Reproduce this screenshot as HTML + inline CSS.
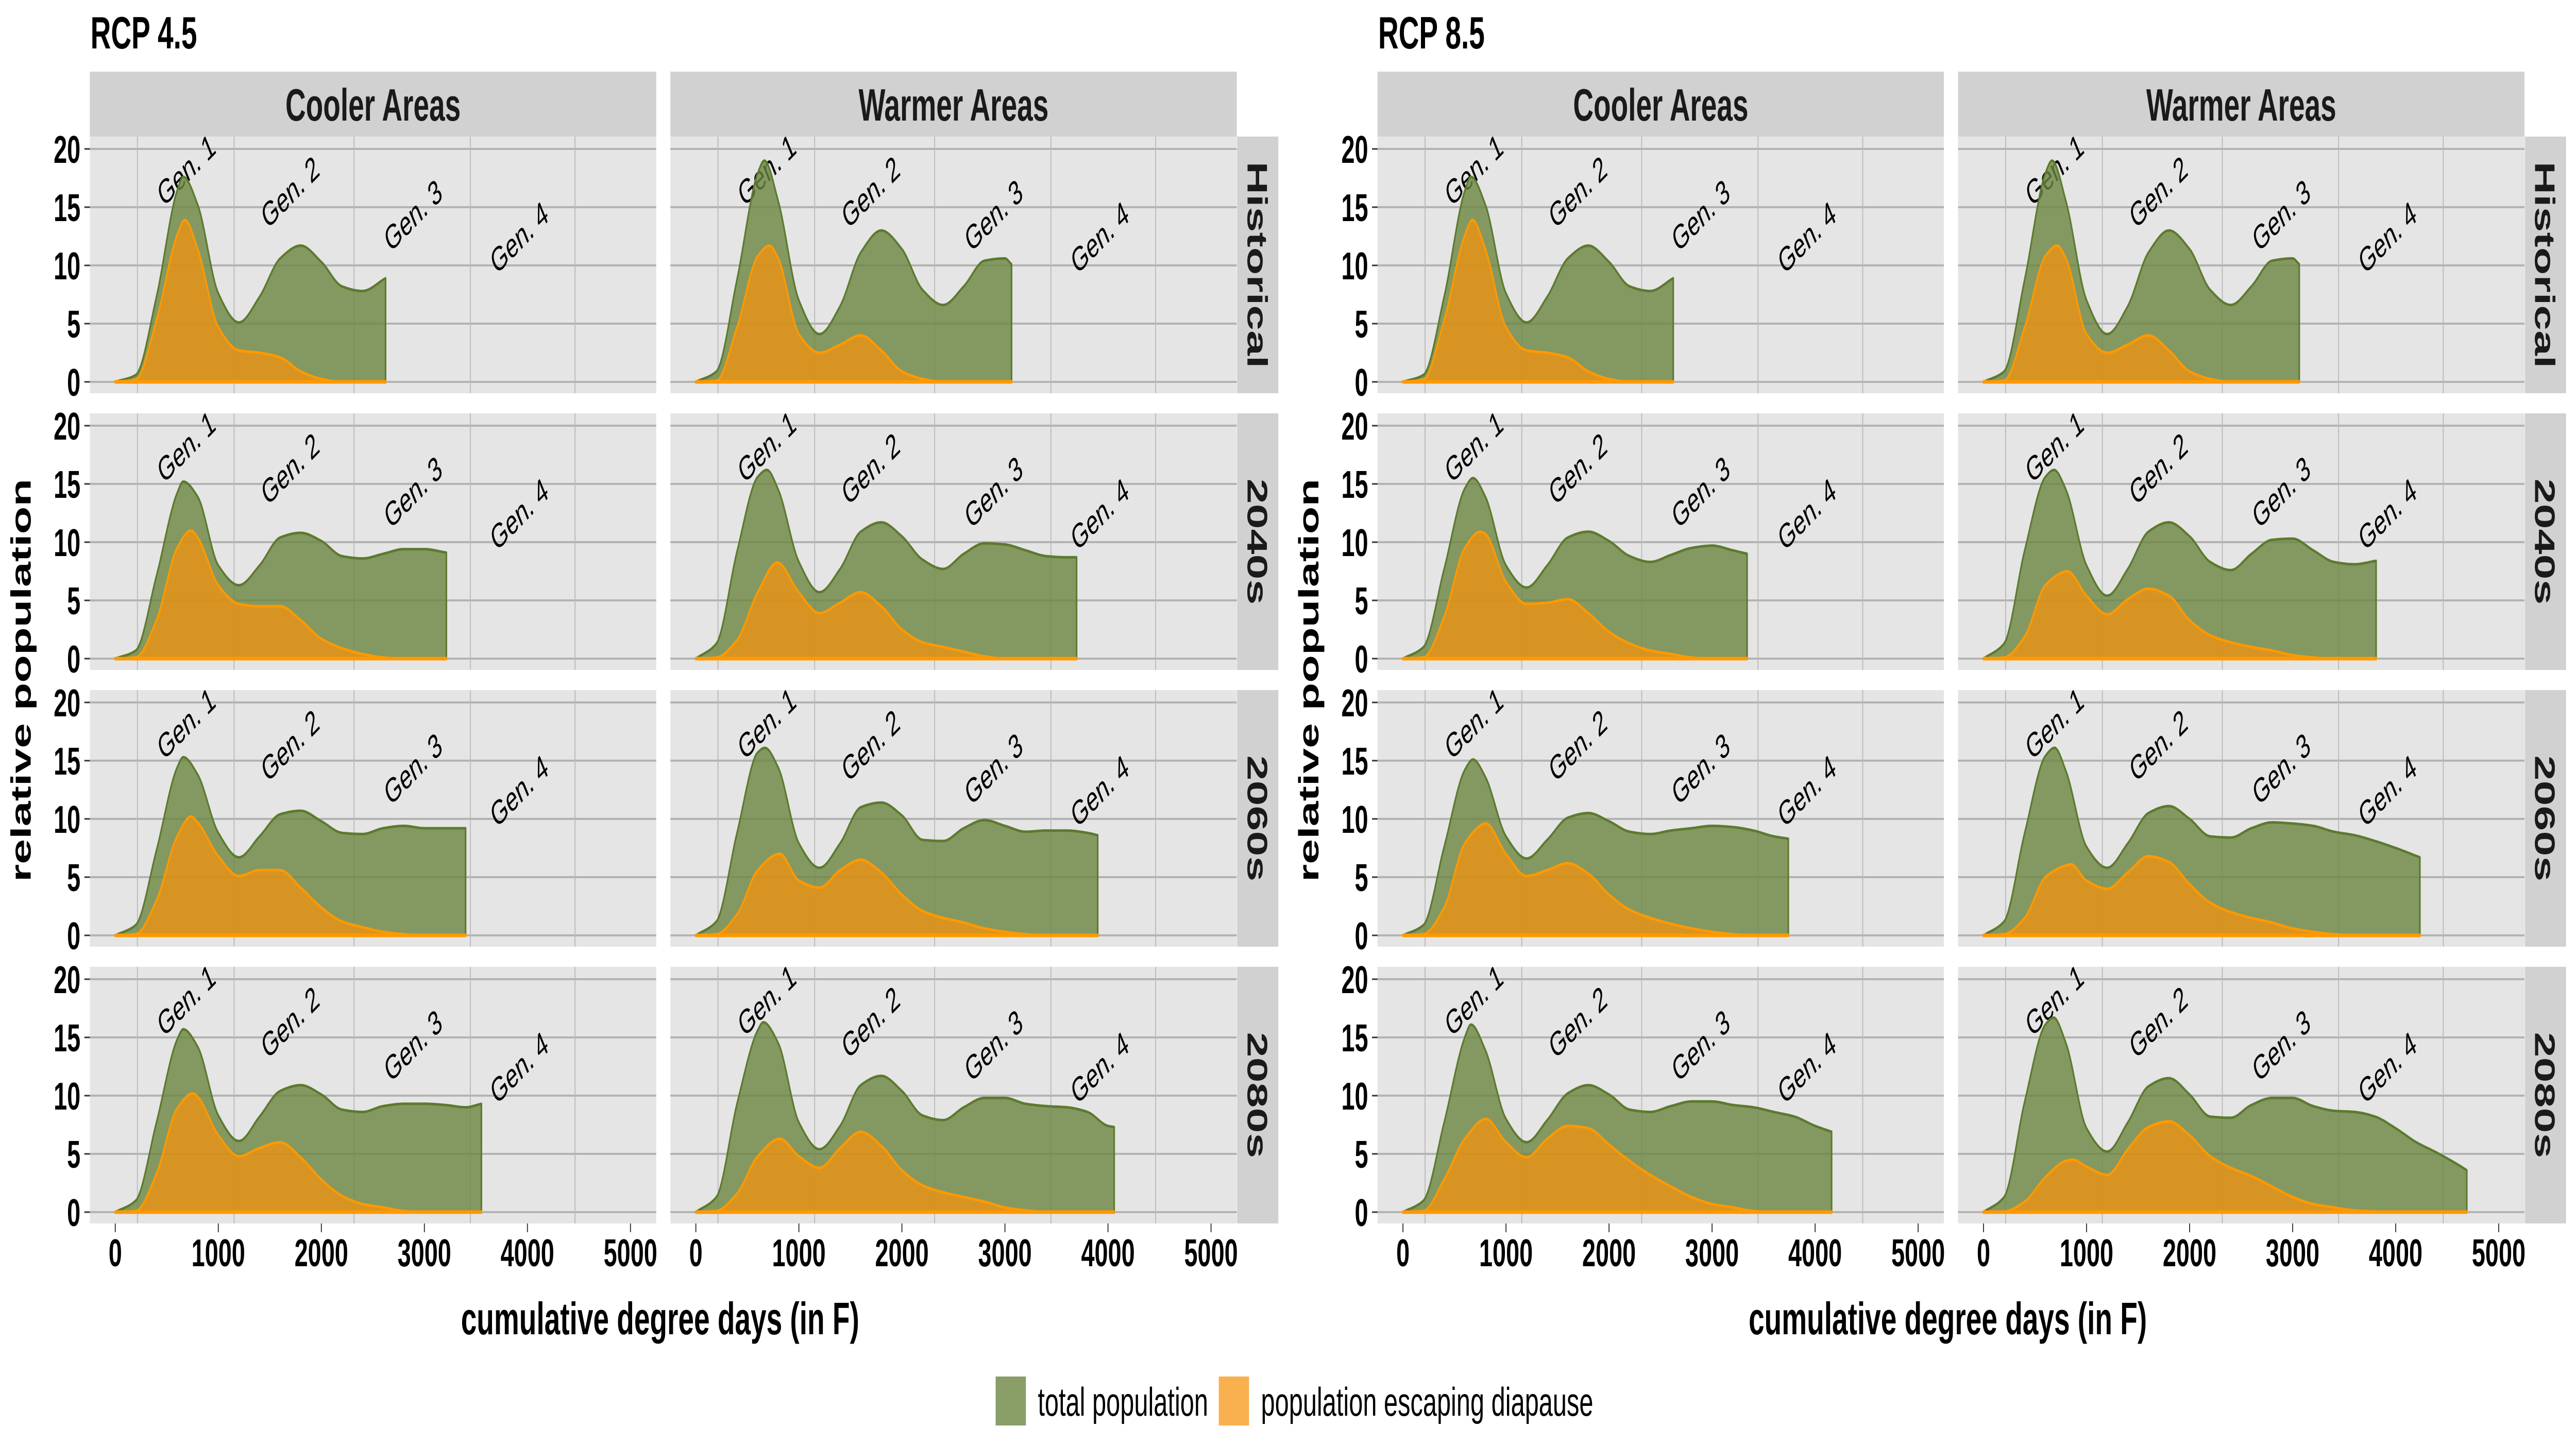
<!DOCTYPE html>
<html><head><meta charset="utf-8">
<style>
html,body{margin:0;padding:0;background:#fff;width:100%;height:100%;overflow:hidden;}
svg{display:block;font-family:"Liberation Sans",Arial,sans-serif;width:100vw;height:100vh;}
</style></head>
<body>
<svg id="chart" viewBox="0 0 8000 2800" preserveAspectRatio="none" xmlns="http://www.w3.org/2000/svg">
  <g>
    <rect x="3092" y="2671" width="94" height="95" fill="#8a9e68"/>
    <text x="3223" y="2747" font-size="78">total population</text>
    <rect x="3785" y="2671" width="94" height="95" fill="#f9b04f"/>
    <text x="3916" y="2747" font-size="78">population escaping diapause</text>
  </g>
</svg>
<script>
// ---------- data ----------
const gridStep = 200; // degree-day sampling step of the value arrays
const genLabels = ["Gen. 1","Gen. 2","Gen. 3","Gen. 4"];
const genLabelDD = [698,1706,2899,3929];
const genLabelVal = [18,16.1,14.1,12.2];
const genLines = [215,1153,2317,3446,4462];
const xTicks = [0,1000,2000,3000,4000,5000];
const yTicks = [0,5,10,15,20];
const rcpTitles = ["RCP 4.5","RCP 8.5"];
const areaNames = ["Cooler Areas","Warmer Areas"];
const periodNames = ["Historical","2040s","2060s","2080s"];

const coolHistTotal = [0,0.6,7.3,16.4,15.2,7.6,5.1,7.3,10.6,11.7,10.3,8.2,7.8,8.8];
const coolHistTotalPeak = [660,17.6];
const coolHistEsc = [0,0.2,5.3,12.6,11.4,4.7,2.7,2.5,2.1,0.9,0.25,0,0,0];
const coolHistEscPeak = [675,13.9];
const coolHistEnd = [2623,8.9];

const warmHistTotal = [0,0.9,8.8,17.9,15.5,7.0,4.1,6.5,11.1,13.0,11.4,7.9,6.6,8.2,10.4,10.6];
const warmHistTotalPeak = [665,19.0];
const warmHistEsc = [0,0.1,4.7,10.8,10.6,4.1,2.5,3.2,4.0,2.7,0.9,0.26,0,0,0,0];
const warmHistEscPeak = [715,11.7];
const warmHistEnd = [3064,10.1];

const cool45_40Total = [0,0.7,7.1,14.2,13.9,8.0,6.3,8.0,10.4,10.8,10.1,8.8,8.6,9.0,9.4,9.4,9.1];
const cool45_40TotalPeak = [660,15.2];
const cool45_40Esc = [0,0.1,3.3,9.5,10.4,6.3,4.7,4.5,4.5,3.3,1.7,0.9,0.4,0.1,0,0,0];
const cool45_40EscPeak = [735,11.0];
const cool45_40End = [3213,9.1];

const warm45_40Total = [0,1.3,9.2,15.6,14.5,8.3,5.7,7.7,10.9,11.7,10.5,8.5,7.7,9.0,9.9,9.8,9.3,8.8,8.7];
const warm45_40TotalPeak = [690,16.2];
const warm45_40Esc = [0,0.1,1.6,5.7,8.2,5.7,3.9,4.8,5.7,4.5,2.5,1.4,1.0,0.6,0.2,0,0,0,0];
const warm45_40EscPeak = [790,8.25];
const warm45_40End = [3695,8.7];

const cool45_60Total = [0,0.9,7.3,14.4,13.8,8.8,6.7,8.5,10.4,10.7,9.8,8.8,8.7,9.2,9.4,9.2,9.2,9.2];
const cool45_60TotalPeak = [660,15.3];
const cool45_60Esc = [0,0.1,3.0,8.5,9.7,6.8,5.1,5.6,5.6,4.1,2.4,1.2,0.7,0.3,0.1,0,0,0];
const cool45_60EscPeak = [735,10.2];
const cool45_60End = [3400,9.2];

const warm45_60Total = [0,1.2,8.8,15.7,14.4,7.9,5.8,7.9,11.0,11.4,10.3,8.2,8.1,9.2,9.9,9.4,8.9,9.0,9.0,8.8];
const warm45_60TotalPeak = [670,16.1];
const warm45_60Esc = [0,0.1,1.8,5.6,6.9,4.7,4.1,5.6,6.5,5.4,3.5,2.1,1.5,1.1,0.6,0.3,0.1,0,0,0];
const warm45_60EscPeak = [815,7.0];
const warm45_60End = [3900,8.6];

const cool45_80Total = [0,1.0,7.7,14.8,14.2,8.3,6.1,8.2,10.4,10.9,10.1,8.8,8.6,9.1,9.3,9.3,9.2,9.0];
const cool45_80TotalPeak = [660,15.7];
const cool45_80Esc = [0,0.1,3.3,8.9,9.9,6.6,4.8,5.5,6.0,4.7,2.8,1.4,0.7,0.4,0.1,0,0,0];
const cool45_80EscPeak = [755,10.2];
const cool45_80End = [3553,9.3];

const warm45_80Total = [0,1.3,9.3,15.6,14.5,7.7,5.4,7.4,10.9,11.7,10.4,8.3,7.9,9.0,9.8,9.8,9.3,9.1,9.0,8.6,7.4];
const warm45_80TotalPeak = [655,16.3];
const warm45_80Esc = [0,0.1,1.6,4.8,6.2,4.8,3.8,5.5,6.9,5.7,3.6,2.3,1.7,1.3,0.9,0.4,0.15,0,0,0,0];
const warm45_80EscPeak = [815,6.3];
const warm45_80End = [4060,7.3];

const cool85_40Total = [0,1.0,7.7,14.6,13.9,8.0,6.1,8.0,10.4,10.9,10.1,8.8,8.3,8.9,9.5,9.7,9.3];
const cool85_40TotalPeak = [680,15.5];
const cool85_40Esc = [0,0.1,3.6,9.5,10.7,6.6,4.7,4.8,5.1,3.9,2.3,1.3,0.7,0.4,0.1,0,0];
const cool85_40EscPeak = [750,10.9];
const cool85_40End = [3340,9.0];

const warm85_40Total = [0,1.3,9.3,15.6,14.5,8.0,5.4,7.7,10.9,11.7,10.5,8.3,7.6,9.0,10.2,10.3,9.3,8.3,8.1,8.4];
const warm85_40TotalPeak = [685,16.2];
const warm85_40Esc = [0,0.1,1.9,6.3,7.4,5.4,3.8,5.1,6.0,5.4,3.3,2.0,1.4,1.0,0.7,0.3,0.1,0,0,0];
const warm85_40EscPeak = [815,7.5];
const warm85_40End = [3810,8.4];

const cool85_60Total = [0,0.9,7.6,14.2,13.6,8.5,6.6,8.2,10.1,10.5,9.8,8.9,8.7,9.0,9.2,9.4,9.3,9.0,8.5];
const cool85_60TotalPeak = [680,15.1];
const cool85_60Esc = [0,0.1,2.4,7.9,9.5,7.0,5.1,5.6,6.2,5.3,3.5,2.2,1.5,1.0,0.6,0.3,0.1,0,0];
const cool85_60EscPeak = [805,9.6];
const cool85_60End = [3740,8.3];

const warm85_60Total = [0,1.2,8.8,15.4,14.1,7.6,5.8,7.9,10.5,11.1,10.0,8.5,8.4,9.2,9.7,9.6,9.4,8.9,8.6,8.1,7.5,6.8];
const warm85_60TotalPeak = [690,16.1];
const warm85_60Esc = [0,0.1,1.5,5.0,6.0,4.7,4.0,5.4,6.8,6.3,4.4,2.8,2.0,1.5,1.1,0.6,0.3,0.1,0,0,0,0];
const warm85_60EscPeak = [850,6.1];
const warm85_60End = [4235,6.7];

const cool85_80Total = [0,1.0,7.7,15.0,13.9,8.0,6.0,7.9,10.2,10.9,10.1,8.8,8.6,9.1,9.5,9.5,9.2,9.0,8.6,8.2,7.4];
const cool85_80TotalPeak = [660,16.1];
const cool85_80Esc = [0,0.1,2.8,6.3,8.0,6.0,4.7,6.3,7.4,7.2,5.8,4.4,3.2,2.2,1.3,0.7,0.4,0.1,0,0,0];
const cool85_80EscPeak = [805,8.0];
const cool85_80End = [4160,6.9];

const warm85_80Total = [0,1.3,9.5,16.1,14.5,7.2,5.2,7.7,10.8,11.5,10.1,8.2,8.1,9.2,9.8,9.8,9.1,8.7,8.6,8.2,7.2,6.0,5.1,4.1];
const warm85_80TotalPeak = [680,16.7];
const warm85_80Esc = [0,0.05,0.9,3.0,4.4,3.9,3.2,5.4,7.3,7.8,6.6,4.8,3.8,3.1,2.2,1.3,0.7,0.4,0.15,0.05,0,0,0,0];
const warm85_80EscPeak = [870,4.5];
const warm85_80End = [4690,3.6];

// panel table: [rcp][row][col]
const panelTable = [
 [
  [[coolHistTotal,coolHistTotalPeak,coolHistEsc,coolHistEscPeak,coolHistEnd],[warmHistTotal,warmHistTotalPeak,warmHistEsc,warmHistEscPeak,warmHistEnd]],
  [[cool45_40Total,cool45_40TotalPeak,cool45_40Esc,cool45_40EscPeak,cool45_40End],[warm45_40Total,warm45_40TotalPeak,warm45_40Esc,warm45_40EscPeak,warm45_40End]],
  [[cool45_60Total,cool45_60TotalPeak,cool45_60Esc,cool45_60EscPeak,cool45_60End],[warm45_60Total,warm45_60TotalPeak,warm45_60Esc,warm45_60EscPeak,warm45_60End]],
  [[cool45_80Total,cool45_80TotalPeak,cool45_80Esc,cool45_80EscPeak,cool45_80End],[warm45_80Total,warm45_80TotalPeak,warm45_80Esc,warm45_80EscPeak,warm45_80End]]
 ],
 [
  [[coolHistTotal,coolHistTotalPeak,coolHistEsc,coolHistEscPeak,coolHistEnd],[warmHistTotal,warmHistTotalPeak,warmHistEsc,warmHistEscPeak,warmHistEnd]],
  [[cool85_40Total,cool85_40TotalPeak,cool85_40Esc,cool85_40EscPeak,cool85_40End],[warm85_40Total,warm85_40TotalPeak,warm85_40Esc,warm85_40EscPeak,warm85_40End]],
  [[cool85_60Total,cool85_60TotalPeak,cool85_60Esc,cool85_60EscPeak,cool85_60End],[warm85_60Total,warm85_60TotalPeak,warm85_60Esc,warm85_60EscPeak,warm85_60End]],
  [[cool85_80Total,cool85_80TotalPeak,cool85_80Esc,cool85_80EscPeak,cool85_80End],[warm85_80Total,warm85_80TotalPeak,warm85_80Esc,warm85_80EscPeak,warm85_80End]]
 ]
];

// ---------- layout ----------
const NS = "http://www.w3.org/2000/svg";
const svg = document.getElementById("chart");
const HALF = 3999, P_LEFT = 279, P_W = 1759, COL_STEP = 1803, P_TOP = 265, P_H = 498, ROW_STEP = 537;
const X0_OFF = 79, X_PER = 0.32, Y0_OFF = 476, Y_PER = 22.6;

function mk(tag, attrs, parent, text) {
  const e = document.createElementNS(NS, tag);
  for (const k in attrs) e.setAttribute(k, attrs[k]);
  if (text !== undefined) e.textContent = text;
  (parent || svg).appendChild(e);
  return e;
}

function buildPoints(vals, peak, end, isTotal) {
  const pts = [];
  for (let i = 0; i < vals.length; i++) {
    const d = i * gridStep;
    if (Math.abs(d - peak[0]) < 40) continue;
    if (d > end[0] - 40) continue;
    pts.push([d, vals[i]]);
  }
  pts.push([peak[0], peak[1]]);
  pts.push([end[0], isTotal ? end[1] : vals[vals.length - 1]]);
  pts.sort((a, b) => a[0] - b[0]);
  return pts;
}

// monotone cubic sampling (Fritsch-Carlson)
function smooth(pts) {
  const n = pts.length, xs = pts.map(p => p[0]), ys = pts.map(p => p[1]);
  const dl = [], m = new Array(n);
  for (let i = 0; i < n - 1; i++) dl.push((ys[i + 1] - ys[i]) / (xs[i + 1] - xs[i]));
  m[0] = dl[0]; m[n - 1] = dl[n - 2];
  for (let i = 1; i < n - 1; i++) {
    if (dl[i - 1] * dl[i] <= 0) m[i] = 0;
    else {
      const w1 = 2 * (xs[i + 1] - xs[i]) + (xs[i] - xs[i - 1]);
      const w2 = (xs[i + 1] - xs[i]) + 2 * (xs[i] - xs[i - 1]);
      m[i] = (w1 + w2) / (w1 / dl[i - 1] + w2 / dl[i]);
    }
  }
  const out = [];
  for (let i = 0; i < n - 1; i++) {
    const h = xs[i + 1] - xs[i];
    for (let k = 0; k < 16; k++) {
      const t = k / 16, t2 = t * t, t3 = t2 * t;
      const y = (2 * t3 - 3 * t2 + 1) * ys[i] + (t3 - 2 * t2 + t) * h * m[i] + (-2 * t3 + 3 * t2) * ys[i + 1] + (t3 - t2) * h * m[i + 1];
      out.push([xs[i] + t * h, Math.max(0, y)]);
    }
  }
  out.push([xs[n - 1], ys[n - 1]]);
  return out;
}

// ---------- draw ----------
for (let h = 0; h < 2; h++) {
  const off = h * HALF;
  const title = mk("text", {x: 281 + off, y: 94, "font-size": 88, "font-weight": "bold", fill: "#000"}, svg, rcpTitles[h]);
  
  

  const yTitle = mk("text", {x: 0, y: 0, "font-size": 88, "font-weight": "bold", "text-anchor": "middle", transform: `translate(${95 + off},1320) rotate(-90)`}, svg, "relative population");
  
  

  const xTitle = mk("text", {x: 2050 + off, y: 2589, "font-size": 88, "font-weight": "bold", "text-anchor": "middle"}, svg, "cumulative degree days (in F)");
  
  

  for (let c = 0; c < 2; c++) {
    const left = P_LEFT + off + c * COL_STEP;
    const strip = mk("rect", {x: left, y: 139, width: P_W, height: 126, fill: "#d1d1d1"});
    
    
    const st = mk("text", {x: left + P_W / 2, y: 234, "font-size": 88, "font-weight": "bold", "text-anchor": "middle", fill: "#1a1a1a"}, svg, areaNames[c]);
    
    
  }

  for (let r = 0; r < 4; r++) {
    const top = P_TOP + r * ROW_STEP;
    const rs = mk("rect", {x: 3842 + off, y: top, width: 128, height: P_H, fill: "#d1d1d1"});
    
    
    const rt = mk("text", {x: 0, y: 0, "font-size": 88, "font-weight": "bold", "text-anchor": "middle", fill: "#1a1a1a", transform: `translate(${3874 + off},${top + P_H / 2}) rotate(90)`}, svg, periodNames[r]);
    
    

    for (let c = 0; c < 2; c++) {
      const left = P_LEFT + off + c * COL_STEP;
      const xS = d => left + X0_OFF + d * X_PER;
      const yS = v => top + Y0_OFF - v * Y_PER;
      const g = mk("g", {});
      
      
      mk("rect", {x: left, y: top, width: P_W, height: P_H, fill: "#e5e5e5"}, g);
      for (const t of yTicks) {
        const gl = mk("line", {x1: left, x2: left + P_W, y1: yS(t), y2: yS(t), stroke: "#b3b3b3", "stroke-width": 4}, g);
        
        
      }
      for (const d of genLines) {
        const vl = mk("line", {x1: xS(d), x2: xS(d), y1: top, y2: top + P_H, stroke: "#bababa", "stroke-width": 3}, g);
        
        
      }
      for (let i = 0; i < genLabels.length; i++) {
        const gt = mk("text", {x: 0, y: 0, "font-size": 66, "text-anchor": "middle", "dominant-baseline": "middle", fill: "#000", transform: `translate(${xS(genLabelDD[i])},${yS(genLabelVal[i])}) rotate(-33)`}, g, genLabels[i]);
        
        
      }
      const [tot, totPk, esc, escPk, end] = panelTable[h][r][c];
      const tp = smooth(buildPoints(tot, totPk, end, true));
      const ep = smooth(buildPoints(esc, escPk, end, false));
      const line = pts => pts.map((p, i) => (i ? "L" : "M") + xS(p[0]).toFixed(1) + " " + yS(p[1]).toFixed(1)).join(" ");
      const areaD = pts => line(pts) + ` L${xS(pts[pts.length - 1][0]).toFixed(1)} ${yS(0)} L${xS(0)} ${yS(0)} Z`;
      const ta = mk("path", {d: areaD(tp), fill: "#6b8640", "fill-opacity": 0.8, stroke: "none"}, g);
      
      
      const tl = mk("path", {d: line(tp) + ` L${xS(end[0]).toFixed(1)} ${yS(0)}`, fill: "none", stroke: "#5d7a2f", "stroke-width": 5, "stroke-linejoin": "round"}, g);
      
      
      const ea = mk("path", {d: areaD(ep), fill: "#f8920b", "fill-opacity": 0.72, stroke: "none"}, g);
      
      
      const el = mk("path", {d: line(ep), fill: "none", stroke: "#ff9900", "stroke-width": 5, "stroke-linejoin": "round"}, g);
      
      
      const bl = mk("line", {x1: xS(0), x2: xS(end[0]), y1: yS(0), y2: yS(0), stroke: "#ff9900", "stroke-width": 7, "stroke-linecap": "round"}, g);
      
      

      if (c === 0) {
        for (const t of yTicks) {
          mk("line", {x1: left - 17, x2: left, y1: yS(t), y2: yS(t), stroke: "#333", "stroke-width": 3});
          const yl = mk("text", {x: left - 29, y: yS(t) + 27, "font-size": 75, "font-weight": "bold", "text-anchor": "end"}, svg, String(t));
          
          
        }
      }
      if (r === 3) {
        for (const t of xTicks) {
          mk("line", {x1: xS(t), x2: xS(t), y1: top + P_H, y2: top + P_H + 17, stroke: "#333", "stroke-width": 3});
          const xl = mk("text", {x: xS(t), y: 2457, "font-size": 75, "font-weight": "bold", "text-anchor": "middle"}, svg, String(t));
          
          
        }
      }
    }
  }
}
</script>
</body></html>
